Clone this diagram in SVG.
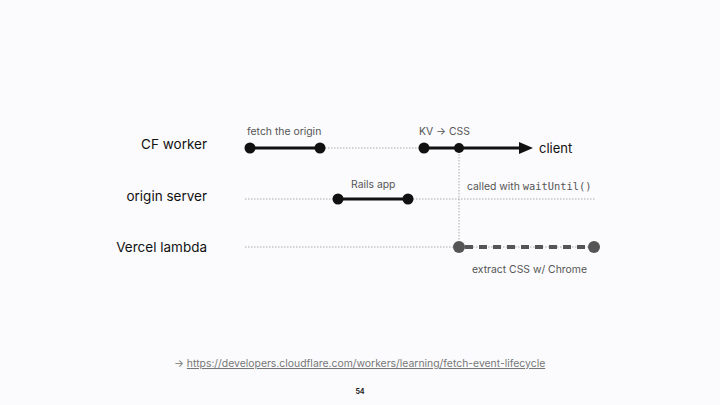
<svg xmlns="http://www.w3.org/2000/svg" width="720" height="405" viewBox="0 0 720 405">
<style>
.lbl{font-family:Inter,"Noto Sans",sans-serif;font-size:13.5px;fill:#111;text-anchor:end}
.sm{font-family:Inter,"Noto Sans",sans-serif;font-size:10.4px;fill:#555}
.mono{font-family:"DejaVu Sans Mono","Liberation Mono",monospace;font-size:10.4px}
.dot{stroke:#aaa;stroke-width:1;stroke-dasharray:1.5 1.5;fill:none}
.seg{stroke:#111;stroke-width:3;fill:none}
.pt{fill:#111}
.gpt{fill:#555}
.dash{stroke:#555;stroke-width:4;stroke-dasharray:8 6;fill:none}
</style>
<defs>
<marker id="arr" viewBox="0 0 14 12" refX="0" refY="6" markerWidth="14" markerHeight="12" markerUnits="userSpaceOnUse" orient="auto">
<path d="M0,0 L14,6 L0,12 Z" fill="#111"/>
</marker>
</defs>
<rect width="720" height="405" fill="#fbfbfd"/>
<g id="connectors">
<line class="dot" x1="250" y1="148" x2="459" y2="148"/>
<line class="dot" x1="245" y1="199" x2="595" y2="199"/>
<line class="dot" x1="245" y1="247" x2="594" y2="247"/>
<line class="dot" x1="459" y1="148" x2="459" y2="247"/>
<line class="seg" x1="250" y1="148" x2="320" y2="148"/>
<line class="seg" x1="424" y1="148" x2="519" y2="148" marker-end="url(#arr)"/>
<line class="seg" x1="338" y1="199" x2="408" y2="199"/>
<line class="dash" x1="465" y1="247" x2="588" y2="247"/>
</g>
<g id="cf-worker">
<text class="lbl" x="207" y="149">CF worker</text>
<circle class="pt" cx="250" cy="148" r="5.5"/>
<circle class="pt" cx="320" cy="148" r="5.5"/>
<circle class="pt" cx="424" cy="148" r="5.5"/>
<circle class="pt" cx="459" cy="148" r="5"/>
<text class="sm" x="247" y="135">fetch the origin</text>
<text class="sm" x="419" y="135">KV → CSS</text>
<text x="539" y="153" style="font-family:Inter,'Noto Sans',sans-serif;font-size:13px;fill:#111">client</text>
</g>
<g id="origin-server">
<text class="lbl" x="207" y="201">origin server</text>
<circle class="pt" cx="338" cy="199" r="5.5"/>
<circle class="pt" cx="408" cy="199" r="5.5"/>
<text class="sm" x="351" y="188">Rails app</text>
<text class="sm" x="467" y="190">called with <tspan class="mono">waitUntil()</tspan></text>
</g>
<g id="vercel-lambda">
<text class="lbl" x="207" y="252">Vercel lambda</text>
<circle class="gpt" cx="459" cy="247" r="6"/>
<circle class="gpt" cx="594" cy="247" r="6"/>
<text class="sm" x="472" y="273">extract CSS w/ Chrome</text>
</g>
<g id="footer">
<text x="174" y="367" style="font-family:Inter,'Noto Sans',sans-serif;font-size:10.4px;fill:#777">→ <tspan text-decoration="underline">https://developers.cloudflare.com/workers/learning/fetch-event-lifecycle</tspan></text>
<text x="360" y="394" text-anchor="middle" style="font-family:Inter,'Noto Sans',sans-serif;font-size:7px;font-weight:bold;fill:#222">54</text>
</g>
</svg>
